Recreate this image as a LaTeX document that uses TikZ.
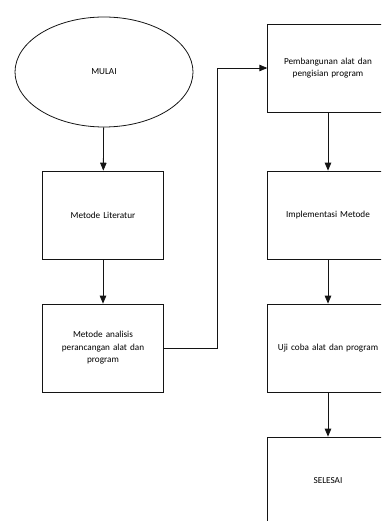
\documentclass[tikz,border=0pt]{standalone}
\usepackage{fontspec}
\setmainfont{Carlito}
\usetikzlibrary{shapes.geometric, arrows, positioning}
\definecolor{lineblack}{RGB}{20,20,20}

\begin{document}
\begin{tikzpicture}[x=1pt, y=-1pt,
    stepbox/.style={rectangle, draw=lineblack, line width=0.8pt, minimum width=118pt, minimum height=88pt, text width=114pt, align=center, font=\fontsize{9.2}{12.5}\selectfont},
    flow/.style={->, >=triangle 45, line width=0.8pt, lineblack}]
% page frame
\useasboundingbox (0,0) rectangle (381,521);
\clip (0,0) rectangle (381,521);

% start
\node[ellipse, draw=lineblack, line width=0.8pt, minimum width=178pt, minimum height=110pt, font=\fontsize{9.2}{12.5}\selectfont] (mulai) at (104,72) {MULAI};

% left column
\node[stepbox] (literatur) at (103,215) {Metode Literatur};
\node[stepbox] (analisis) at (103,348) {Metode analisis\\perancangan alat dan\\program};

% right column
\node[stepbox] (bangun) at (328,68) {Pembangunan alat dan\\pengisian program};
\node[stepbox] (implementasi) at (328,215) {Implementasi Metode};
\node[stepbox] (ujicoba) at (328,348) {Uji coba alat dan program};
\node[stepbox] (selesai) at (328,481) {SELESAI};

% Connections
\draw[flow] (mulai) -- (literatur);
\draw[flow] (literatur) -- (analisis);
\draw[flow] (analisis.east) -- ++(54,0) |- (bangun.west);
\draw[flow] (bangun) -- (implementasi);
\draw[flow] (implementasi) -- (ujicoba);
\draw[flow] (ujicoba) -- (selesai);
\end{tikzpicture}
\end{document}
